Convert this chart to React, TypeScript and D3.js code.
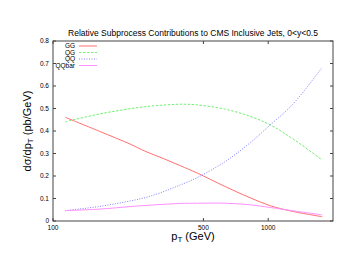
import React from "react";
import * as d3 from "d3";

const pt = [114, 165, 228, 268, 325, 390, 468, 631, 825, 1022, 1293, 1783];
const gg = [0.461, 0.398, 0.342, 0.31, 0.278, 0.246, 0.213, 0.153, 0.103, 0.068, 0.043, 0.019];
const qg = [0.441, 0.476, 0.499, 0.508, 0.515, 0.519, 0.516, 0.497, 0.465, 0.427, 0.367, 0.271];
const qq = [0.046, 0.065, 0.089, 0.104, 0.13, 0.16, 0.193, 0.264, 0.348, 0.427, 0.516, 0.683];
const qqbar = [0.046, 0.053, 0.064, 0.069, 0.074, 0.078, 0.079, 0.079, 0.072, 0.06, 0.046, 0.027];
const seriesNames = ["GG", "QG", "QQ", "QQbar"];
const xTicks = [100, 500, 1000];
const yTicks = [0, 0.1, 0.2, 0.3, 0.4, 0.5, 0.6, 0.7, 0.8];

const W = 354, H = 274;
const L = 53, R = 333, T = 41, B = 221;
const font = "'Liberation Sans', Arial, sans-serif";

export default function App() {
  const x = d3.scaleLog().domain([100, 2000]).range([L, R]);
  const y = d3.scaleLinear().domain([0, 0.8]).range([B, T]);
  const line = d3
    .line<number>()
    .x((_, i) => x(pt[i]))
    .y((d) => y(d))
    .curve(d3.curveCatmullRom.alpha(0.5));
  const series = [
    { name: seriesNames[0], vals: gg, color: "#ff7070", dash: "" },
    { name: seriesNames[1], vals: qg, color: "#70f070", dash: "2.5,1.5" },
    { name: seriesNames[2], vals: qq, color: "#8080ff", dash: "1,1.5" },
    { name: seriesNames[3], vals: qqbar, color: "#ff90ff", dash: "" },
  ];
  return (
    <svg width={W} height={H} style={{ position: "absolute", left: 0, top: 0 }}>
      <rect width={W} height={H} fill="#fff" />
      <text x={193} y={36} fontSize={8.5} fontFamily={font} textAnchor="middle" fill="#000">
        Relative Subprocess Contributions to CMS Inclusive Jets, 0&lt;y&lt;0.5
      </text>
      {series.map((s) => (
        <path
          key={s.name}
          d={line(s.vals) || ""}
          fill="none"
          stroke={s.color}
          strokeWidth={1}
          strokeDasharray={s.dash}
        />
      ))}
      <rect x={L} y={T} width={R - L} height={B - T} fill="none" stroke="#444" strokeWidth={1} />
      {yTicks.map((t) => (
        <g key={"y" + t}>
          <line x1={L} x2={L + 3} y1={y(t)} y2={y(t)} stroke="#444" />
          <line x1={R} x2={R - 3} y1={y(t)} y2={y(t)} stroke="#444" />
          <text x={49} y={y(t) + 2.3} fontSize={6.5} fontFamily={font} textAnchor="end" fill="#000">
            {t === 0 ? "0" : d3.format(".1f")(t)}
          </text>
        </g>
      ))}
      {xTicks.map((t) => (
        <g key={"x" + t}>
          <line x1={x(t)} x2={x(t)} y1={B} y2={B - 3} stroke="#444" />
          <line x1={x(t)} x2={x(t)} y1={T} y2={T + 3} stroke="#444" />
          <text x={x(t)} y={230} fontSize={6.5} fontFamily={font} textAnchor="middle" fill="#000">
            {t}
          </text>
        </g>
      ))}
      {series.map((s, i) => (
        <g key={"leg" + s.name}>
          <text x={75} y={48.3 + i * 6.5} fontSize={6.5} fontFamily={font} textAnchor="end" fill="#000">
            {s.name}
          </text>
          <line x1={79} x2={97} y1={46 + i * 6.5} y2={46 + i * 6.5} stroke={s.color} strokeDasharray={s.dash} />
        </g>
      ))}
      <text x={193} y={240} fontSize={11} fontFamily={font} textAnchor="middle" fill="#000">
        p<tspan fontSize={8} dy={2}>T</tspan>
        <tspan dy={-2}> (GeV)</tspan>
      </text>
      <text
        transform={`translate(31,131) rotate(-90)`}
        fontSize={11}
        fontFamily={font}
        textAnchor="middle"
        fill="#000"
      >
        dσ/dp<tspan fontSize={8} dy={2}>T</tspan>
        <tspan dy={-2}> (pb/GeV)</tspan>
      </text>
    </svg>
  );
}
